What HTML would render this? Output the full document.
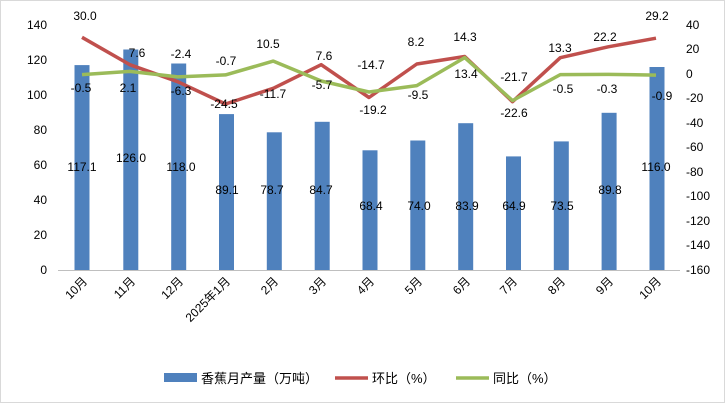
<!DOCTYPE html>
<html><head><meta charset="utf-8"><style>
body{margin:0;background:#fff}
svg{display:block;font-family:"Liberation Sans","Noto Sans CJK SC",sans-serif}
</style></head><body>
<svg width="725" height="403" viewBox="0 0 725 403">
<rect x="0.5" y="0.5" width="724" height="402" fill="#fff" stroke="#d9d9d9"/>
<g font-size="12" fill="#000" text-anchor="end">
<text x="47" y="274">0</text><text x="47" y="239">20</text><text x="47" y="204">40</text>
<text x="47" y="169">60</text><text x="47" y="134">80</text><text x="47" y="99">100</text>
<text x="47" y="64">120</text><text x="47" y="29">140</text>
</g>
<g font-size="12" fill="#000" text-anchor="start">
<text x="686" y="29">40</text><text x="686" y="53">20</text><text x="686" y="78">0</text>
<text x="686" y="102">-20</text><text x="686" y="127">-40</text><text x="686" y="151">-60</text>
<text x="686" y="176">-80</text><text x="686" y="200">-100</text><text x="686" y="225">-120</text>
<text x="686" y="249">-140</text><text x="686" y="274">-160</text>
</g>
<line x1="58" y1="270.5" x2="680" y2="270.5" stroke="#bfbfbf"/>
<g fill="#4f81bd">
<rect x="74.5" y="65.1" width="15" height="204.9"/>
<rect x="123.3" y="49.5" width="15" height="220.5"/>
<rect x="171.2" y="63.5" width="15" height="206.5"/>
<rect x="219" y="114.1" width="15" height="155.9"/>
<rect x="266.8" y="132.3" width="15" height="137.7"/>
<rect x="314.7" y="121.8" width="15" height="148.2"/>
<rect x="362.5" y="150.3" width="15" height="119.7"/>
<rect x="410.3" y="140.5" width="15" height="129.5"/>
<rect x="458.2" y="123.2" width="15" height="146.8"/>
<rect x="506" y="156.4" width="15" height="113.6"/>
<rect x="553.8" y="141.4" width="15" height="128.6"/>
<rect x="601.6" y="112.8" width="15" height="157.2"/>
<rect x="649.5" y="67" width="15" height="203"/>
</g>
<polyline fill="none" stroke="#c0504d" stroke-width="3.5" stroke-linejoin="round" points="82,37.3 129.8,64.7 177.7,81.7 225.5,104 273.3,88.3 321.2,64.7 369,97.5 416.8,64 464.7,56.5 512.5,101.7 560.3,57.7 608.2,46.8 656,38.2"/>
<polyline fill="none" stroke="#9bbb59" stroke-width="3.5" stroke-linejoin="round" points="82,74.6 129.8,71.4 177.7,76.9 225.5,74.9 273.3,61.1 321.2,81 369,92 416.8,85.6 464.7,57.6 512.5,100.6 560.3,74.6 608.2,74.4 656,75.1"/>
<g font-size="12" fill="#000" text-anchor="middle">
<text x="85" y="20">30.0</text><text x="137" y="57">7.6</text><text x="181" y="58">-2.4</text>
<text x="226" y="65">-0.7</text><text x="268" y="48">10.5</text><text x="324" y="60">7.6</text>
<text x="371" y="69">-14.7</text><text x="416" y="46">8.2</text><text x="465" y="41">14.3</text>
<text x="514" y="81">-21.7</text><text x="560" y="52">13.3</text><text x="605" y="41">22.2</text>
<text x="657" y="20">29.2</text>
<text x="81" y="92">-0.5</text><text x="128" y="92">2.1</text><text x="181" y="95">-6.3</text>
<text x="224" y="108">-24.5</text><text x="273" y="98">-11.7</text><text x="322" y="89">-5.7</text>
<text x="373" y="114">-19.2</text><text x="418" y="99">-9.5</text><text x="466" y="78">13.4</text>
<text x="514" y="117">-22.6</text><text x="563" y="93">-0.5</text><text x="607" y="93">-0.3</text>
<text x="662" y="100">-0.9</text>
<text x="82" y="171">117.1</text><text x="131" y="162">126.0</text><text x="181" y="171">118.0</text>
<text x="227" y="194">89.1</text><text x="272" y="194">78.7</text><text x="321" y="194">84.7</text>
<text x="371" y="210">68.4</text><text x="419" y="210">74.0</text><text x="467" y="210">83.9</text>
<text x="514" y="210">64.9</text><text x="562" y="210">73.5</text><text x="610" y="194">89.8</text>
<text x="656" y="171">116.0</text>
</g>
<g font-size="12" fill="#000" text-anchor="end">
<text transform="translate(88,282) rotate(-45)">10月</text>
<text transform="translate(136,282) rotate(-45)">11月</text>
<text transform="translate(184,282) rotate(-45)">12月</text>
<text transform="translate(231,282) rotate(-45)">2025年1月</text>
<text transform="translate(279,282) rotate(-45)">2月</text>
<text transform="translate(327,282) rotate(-45)">3月</text>
<text transform="translate(375,282) rotate(-45)">4月</text>
<text transform="translate(423,282) rotate(-45)">5月</text>
<text transform="translate(471,282) rotate(-45)">6月</text>
<text transform="translate(518,282) rotate(-45)">7月</text>
<text transform="translate(566,282) rotate(-45)">8月</text>
<text transform="translate(614,282) rotate(-45)">9月</text>
<text transform="translate(662,282) rotate(-45)">10月</text>
</g>
<g font-size="13" fill="#000">
<rect x="164" y="373" width="33" height="9" fill="#4f81bd"/>
<text x="201" y="383">香蕉月产量（万吨）</text>
<line x1="335" y1="378" x2="368" y2="378" stroke="#c0504d" stroke-width="3.5"/>
<text x="372" y="383">环比（%）</text>
<line x1="456" y1="378" x2="489" y2="378" stroke="#9bbb59" stroke-width="3.5"/>
<text x="493" y="383">同比（%）</text>
</g>
</svg>
</body></html>
